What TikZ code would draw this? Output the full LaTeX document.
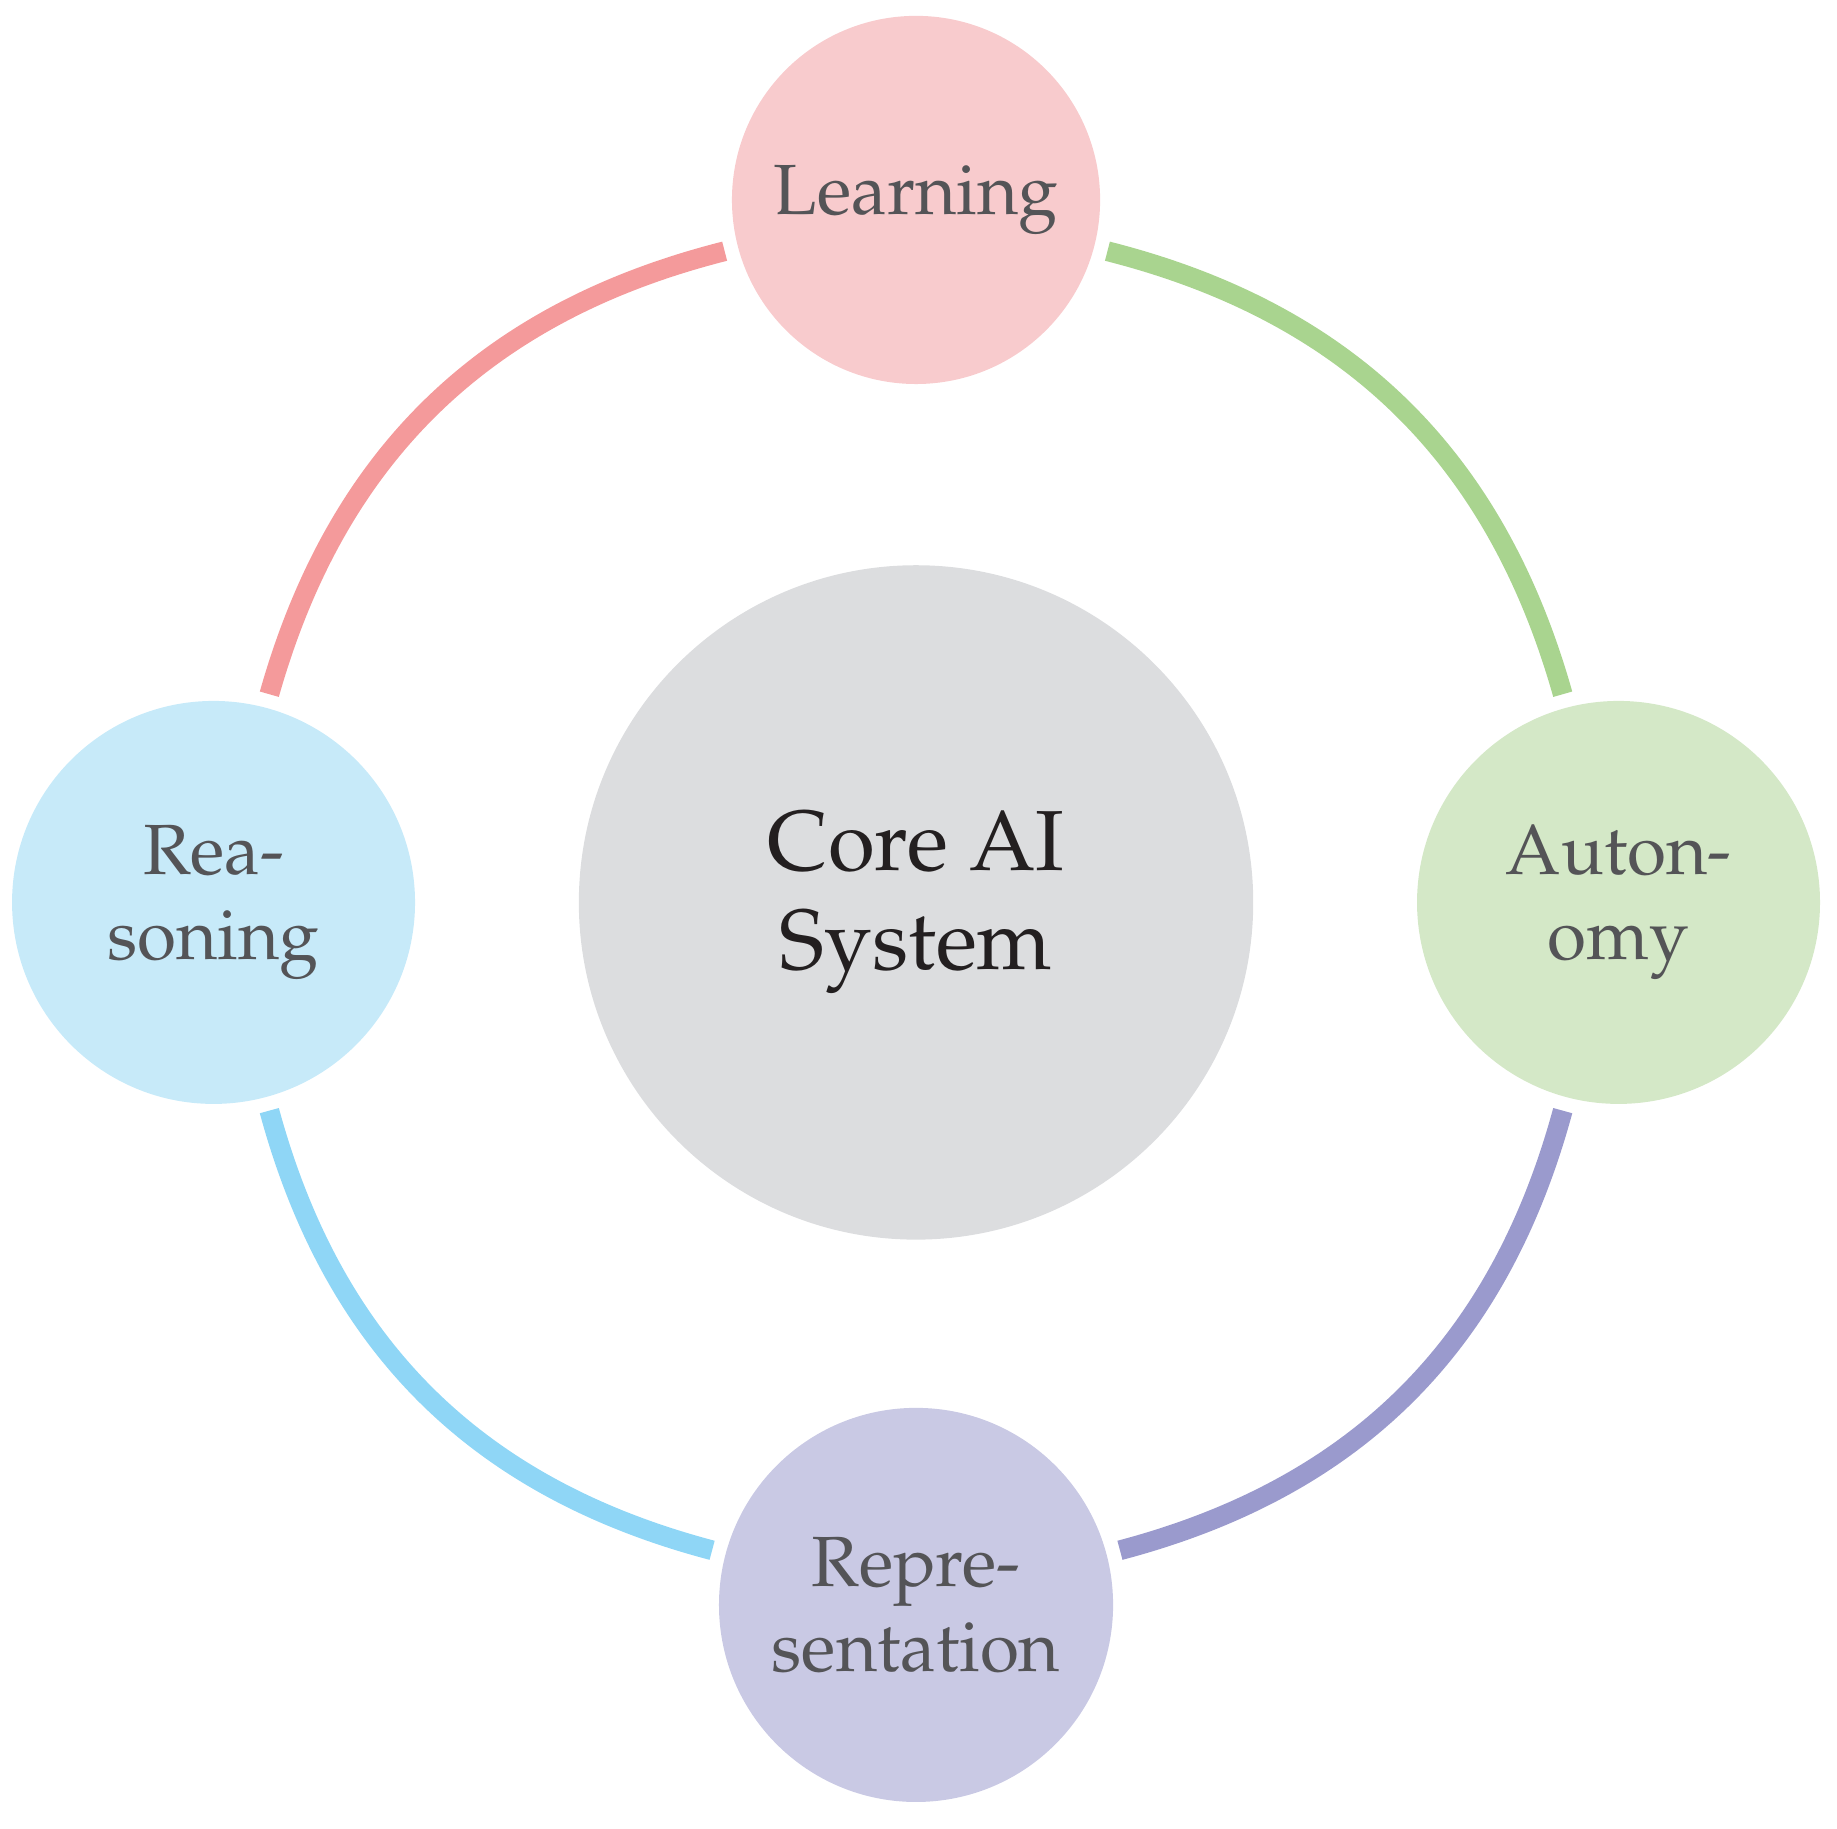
\documentclass[tikz,border=0pt]{standalone}
\usepackage[T1]{fontenc}
\usepackage{mathpazo}
\usepackage{xcolor}
\usepackage{tikz}

\definecolor{corefill}{HTML}{DCDDDF}
\definecolor{coretext}{HTML}{231F20}
\definecolor{sattext}{HTML}{545457}
\definecolor{learnfill}{HTML}{F8CBCD}
\definecolor{learnline}{HTML}{F49A9B}
\definecolor{autofill}{HTML}{D4E8C7}
\definecolor{autoline}{HTML}{A9D48F}
\definecolor{reprfill}{HTML}{C9C9E4}
\definecolor{reprline}{HTML}{9A9ACD}
\definecolor{reasfill}{HTML}{C7EAF9}
\definecolor{reasline}{HTML}{8FD6F6}

\begin{document}
\begin{tikzpicture}[
  core/.style={circle,fill=corefill,minimum size=4.8cm,inner sep=0pt,outer sep=0pt,align=center,text=coretext,font=\fontsize{17.28}{20.2}\selectfont},
  sat/.style={circle,text width=2.15cm,inner sep=4.8pt,outer sep=0.1cm,align=center,text=sattext,font=\fontsize{14.4}{17.1}\selectfont},
  link/.style={line width=4pt,bend left=30}
]
\useasboundingbox (-6.52,-6.594) rectangle (6.555,6.423);
\node[core] (core) at (0,0) {Core AI\\System};
\node[sat,fill=learnfill] (learning) at (0,5) {Learning};
\node[sat,fill=autofill] (autonomy) at (5,0) {Auton-\\omy};
\node[sat,fill=reprfill] (repr) at (0,-5) {Repre-\\sentation};
\node[sat,fill=reasfill] (reasoning) at (-5,0) {Rea-\\soning};
% cycle round the core, each segment in the colour of its target
\draw[link,autoline] (learning) to (autonomy);
\draw[link,reprline] (autonomy) to (repr);
\draw[link,reasline] (repr) to (reasoning);
\draw[link,learnline] (reasoning) to (learning);
\end{tikzpicture}
\end{document}
